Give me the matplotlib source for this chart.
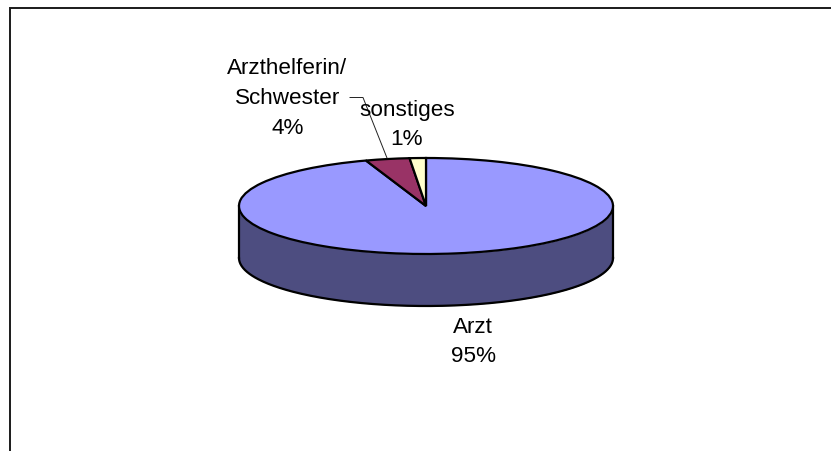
import numpy as np
import matplotlib
matplotlib.use("Agg")
import matplotlib.pyplot as plt

categories = ["Arzt", "Arzthelferin/\nSchwester", "sonstiges"]
shares = [94.8, 3.8, 1.4]
pct_labels = ["95%", "4%", "1%"]
colors = ["#9999FF", "#993366", "#FFFFCC"]
side_color = "#4D4D80"

W, H = 831, 451
plt.rcParams['font.family'] = ['Liberation Sans', 'DejaVu Sans']
fig = plt.figure(figsize=(W / 100, H / 100), dpi=100, facecolor="white")

# pixel coordinates for the chrome
bg = fig.add_axes([0, 0, 1, 1])
bg.set_xlim(0, W); bg.set_ylim(H, 0); bg.axis("off")
bg.plot([10, 10, W], [H, 7.5, 7.5], color="#1a1a1a", lw=1.4, solid_capstyle="butt",
        solid_joinstyle="miter")

# ellipse axes: the unit circle maps to the pie ellipse
cx, cy, rx, ry, depth = 426, 206, 187, 48, 52
edge_lw = 1.6
ax = fig.add_axes([0, 0, 1, 1], zorder=2)
ax.patch.set_alpha(0)

theta = np.linspace(np.pi, 2 * np.pi, 300)
xs = np.cos(theta)
top = np.sin(theta)
bot = top - depth / ry
ax.fill_between(xs, bot, top, color=side_color, lw=0, zorder=1)
ax.plot(xs, bot, color="black", lw=edge_lw, zorder=2)
ax.plot([-1, -1], [0, -depth / ry], color="black", lw=edge_lw, zorder=2)
ax.plot([1, 1], [0, -depth / ry], color="black", lw=edge_lw, zorder=2)

wedges, _ = ax.pie(shares, colors=colors, startangle=90, counterclock=False,
                   radius=1, wedgeprops=dict(edgecolor="black", linewidth=edge_lw, zorder=3))
ax.set_aspect("auto")
ax.set_xlim((0 - cx) / rx, (W - cx) / rx)
ax.set_ylim((cy - H) / ry, cy / ry)
ax.axis("off")

# labels and leader line
fs = 16.2
positions = [(473, 342), (287.5, 98.5), (407, 125)]
overlay = fig.add_axes([0, 0, 1, 1], zorder=3)
overlay.set_xlim(0, W); overlay.set_ylim(H, 0); overlay.axis("off")
overlay.plot([350, 363, 387], [97.5, 97.5, 158], color="#222222", lw=0.7)
for cat, pct, (x, y) in zip(categories, pct_labels, positions):
    overlay.text(x, y, f"{cat}\n{pct}", ha="center", va="center", fontsize=fs,
                 color="black", linespacing=1.55)

fig.savefig("out.png", dpi=100)
